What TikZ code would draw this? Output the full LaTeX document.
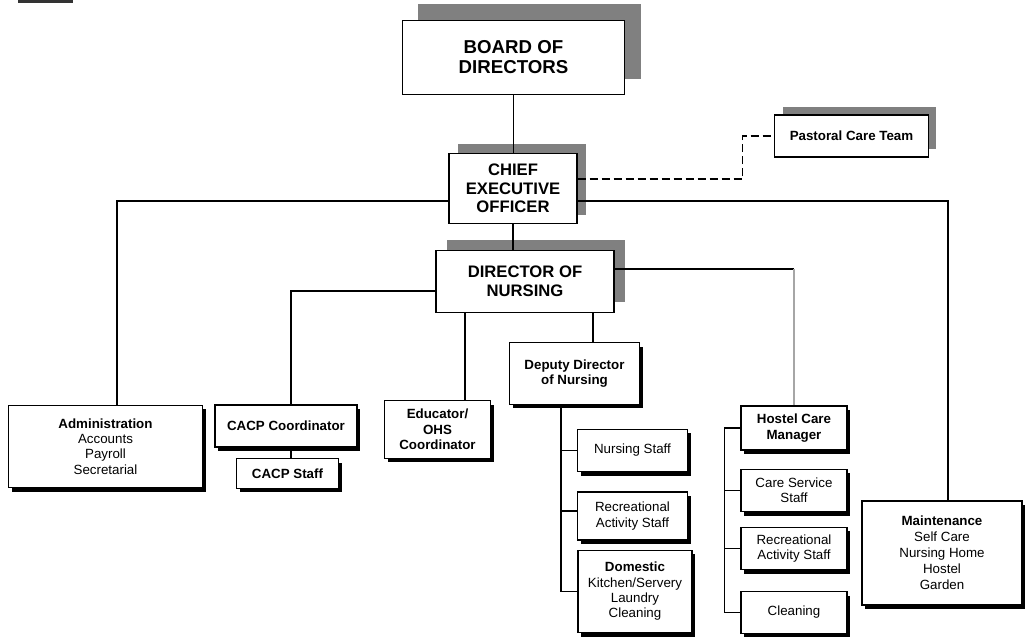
\documentclass[tikz,border=0pt]{standalone}
\usepackage{fontspec}
\setmainfont{Liberation Sans}
\usetikzlibrary{shadows,calc}

\tikzset{every picture/.style={line width=0.75pt}}
\tikzset{
  topbox/.style={draw, fill=white, line width=0.9pt, align=center, inner sep=0pt,
    font=\bfseries\fontsize{12.5}{14}\selectfont},
  subbox/.style={draw, fill=white, line width=0.9pt, align=center, inner sep=0pt,
    font=\fontsize{10}{11.5}\selectfont,
    general shadow={fill=black, shadow xshift=2.5pt, shadow yshift=-3pt}},
  greyshade/.style={general shadow={fill=black!50, shadow xshift=#1, shadow yshift=#1}},
  link/.style={line width=1.1pt},
}

\begin{document}
\begin{tikzpicture}[x=0.75pt,y=0.75pt,yscale=-1,xscale=1]
\useasboundingbox (0,0) rectangle (1027,636);
%Shape: Rectangle (cut off at the top edge)
\fill[black!80] (18,0) rectangle (73,3);
%Shape: Board
\node [topbox, greyshade=12pt, minimum width=167pt, minimum height=56pt,
  font=\bfseries\fontsize{14}{15}\selectfont] (board) at (513.5,57.5) {BOARD OF\\DIRECTORS};
%Shape: Chief executive
\node [topbox, greyshade=7pt, minimum width=96pt, minimum height=53pt] (ceo) at (513,188.5) {CHIEF\\EXECUTIVE\\OFFICER};
%Shape: Director of nursing
\node [topbox, greyshade=8pt, minimum width=133.5pt, minimum height=46pt] (don) at (525,281.5) {DIRECTOR OF\\NURSING};
%Shape: Pastoral care
\node [topbox, greyshade=6pt, minimum width=115pt, minimum height=31.5pt,
  font=\bfseries\fontsize{10}{11.5}\selectfont] (pct) at (851.5,136) {Pastoral Care Team};
% Left branch
\node [subbox, minimum width=145pt, minimum height=62pt] (admin) at (105.5,446.5) {\textbf{Administration}\\Accounts\\Payroll\\Secretarial};
\node [subbox, minimum width=106.5pt, minimum height=31.5pt, font=\bfseries\fontsize{10}{11.5}\selectfont] (cacpc) at (286,426) {CACP Coordinator};
\node [subbox, minimum width=76pt, minimum height=22pt, font=\bfseries\fontsize{10}{11.5}\selectfont] (cacps) at (287.5,473.5) {CACP Staff};
\node [subbox, minimum width=80pt, minimum height=43pt, font=\bfseries\fontsize{10}{11.5}\selectfont] (edu) at (437.5,429.5) {Educator/\\OHS\\Coordinator};
% Deputy branch
\node [subbox, minimum width=97pt, minimum height=46pt, font=\bfseries\fontsize{10}{11.5}\selectfont] (dep) at (574.5,373.5) {Deputy Director\\of Nursing};
\node [subbox, minimum width=83pt, minimum height=32pt] (nurse) at (632.5,450.5) {Nursing Staff};
\node [subbox, minimum width=83pt, minimum height=36pt] (rad) at (632.5,516) {Recreational\\Activity Staff};
\node [subbox, minimum width=85.5pt, minimum height=62pt] (dom) at (635,591.5) {\textbf{Domestic}\\Kitchen/Servery\\Laundry\\Cleaning};
% Hostel branch
\node [subbox, minimum width=79.5pt, minimum height=33pt, font=\bfseries\fontsize{10}{11.5}\selectfont] (hcm) at (794,428) {Hostel Care\\Manager};
\node [subbox, minimum width=79.5pt, minimum height=32pt] (csv) at (794,490.5) {Care Service\\Staff};
\node [subbox, minimum width=79.5pt, minimum height=32pt] (rah) at (794,548.5) {Recreational\\Activity Staff};
\node [subbox, minimum width=79.5pt, minimum height=31pt] (clean) at (794,612.5) {Cleaning};
% Maintenance
\node [subbox, minimum width=120pt, minimum height=78pt, font=\fontsize{10}{12}\selectfont] (maint) at (942,553) {\textbf{Maintenance}\\Self Care\\Nursing Home\\Hostel\\Garden};

%Straight Lines
\draw [link] (board.south) -- (board.south |- ceo.north);
\draw [link] (ceo.south) -- (ceo.south |- don.north);
\draw [link] ($(ceo.west)+(0,12.5)$) -| ($(admin.north)+(11.5,0)$);
\draw [link] ($(ceo.east)+(0,12.5)$) -| ($(maint.north)+(6,0)$);
\draw [link, dash pattern=on 6pt off 3pt] ($(ceo.east)+(0,-9.5)$) -- ++(165,0) |- (pct.west);
\draw [link] ($(don.west)+(0,9.5)$) -| ($(cacpc.north)+(5,0)$);
\draw [link] ($(cacpc.south)+(5,0)$) -- ($(cacps.north)+(3.5,0)$);
\draw [link] ($(don.south)+(-60,0)$) -- ($(edu.north)+(27.5,0)$);
\draw [link] ($(don.south)+(68,0)$) -- ($(dep.north)+(18.5,0)$);
\coordinate (hbend) at ($(don.east)+(0,-12.5)$);
\draw [link] (hbend) -- (hbend -| hcm.north);
\draw [link, black!35] (hbend -| hcm.north) -- (hcm.north);
% Deputy trunk
\coordinate (dtrunk) at ($(dep.south)+(-13.5,0)$);
\draw [link] (dtrunk) |- (dom.west);
\draw [link] (dtrunk |- nurse.west) -- (nurse.west);
\draw [link] ($(dtrunk |- rad.west)+(0,-5)$) -- ($(rad.west)+(0,-5)$);
% Hostel trunk
\coordinate (htrunk) at ($(hcm.west)+(-16,0)$);
\draw [link] (hcm.west) -- (htrunk) |- (clean.west);
\draw [link] (htrunk |- csv.west) -- (csv.west);
\draw [link] (htrunk |- rah.west) -- (rah.west);
\end{tikzpicture}
\end{document}
